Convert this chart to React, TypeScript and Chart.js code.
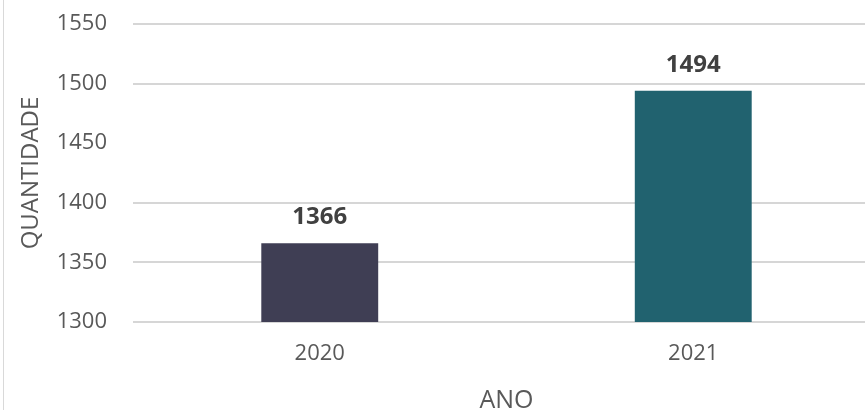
import React, { useEffect, useRef } from "react";
import { Chart, registerables } from "chart.js";

Chart.register(...registerables);

const categories: string[] = ["2020", "2021"];
const values: number[] = [1366, 1494];
const barColors: string[] = ["#3f3e54", "#21626f"];
const yMin = 1300;
const yMax = 1550;
const yStep = 50;
const hiddenGridValue = 1450;
const yTitle = "QUANTIDADE";
const xTitle = "ANO";

const FONT = "'Open Sans', sans-serif";

const valueLabels = {
  id: "valueLabels",
  afterDatasetsDraw(chart: any) {
    const ctx = chart.ctx;
    const meta = chart.getDatasetMeta(0);
    const data = chart.data.datasets[0].data as number[];
    ctx.save();
    ctx.font = `bold 24px ${FONT}`;
    ctx.fillStyle = "#404040";
    ctx.textAlign = "center";
    ctx.textBaseline = "alphabetic";
    meta.data.forEach((bar: any, i: number) => {
      ctx.fillText(String(data[i]), bar.x, bar.y - 19);
    });
    ctx.restore();
  },
};

const isHidden = (c: any) => {
  if (!c || c.type !== "tick") return false;
  const v = c.tick ? Number(c.tick.value) : NaN;
  return Math.abs(v - hiddenGridValue) < 1e-6;
};

export default function App() {
  const ref = useRef<HTMLCanvasElement | null>(null);

  useEffect(() => {
    document.body.style.overflow = "hidden";
    const canvas = ref.current!;
    const chart = new Chart(canvas, {
      type: "bar",
      data: {
        labels: categories,
        datasets: [
          {
            data: values,
            backgroundColor: barColors,
            borderWidth: 0,
            categoryPercentage: 1,
            barPercentage: 0.313,
          },
        ],
      },
      plugins: [valueLabels],
      options: {
        animation: false,
        responsive: false,
        layout: { padding: { top: 24, right: 5, bottom: 0, left: 0 } },
        plugins: {
          legend: { display: false },
          tooltip: { enabled: false },
        },
        scales: {
          x: {
            offset: true,
            border: { display: false },
            grid: { display: false, drawTicks: false },
            ticks: {
              color: "#595959",
              font: { family: FONT, size: 22 },
              padding: 19,
            },
            title: {
              display: true,
              text: xTitle,
              color: "#595959",
              font: { family: FONT, size: 25 },
              padding: { top: 0, bottom: -6 },
            },
            afterFit: (scale: any) => {
              scale.height = 88;
            },
          },
          y: {
            min: yMin,
            max: yMax,
            border: { display: false },
            grid: {
              drawTicks: false,
              lineWidth: 2,
              color: (c: any) => (isHidden(c) ? "rgba(255,255,255,0)" : "#d6d6d6"),
            },
            ticks: {
              stepSize: yStep,
              color: "#595959",
              font: { family: FONT, size: 22 },
              padding: 26,
              callback: (v: any) => String(v),
            },
            title: {
              display: true,
              text: yTitle,
              color: "#595959",
              font: { family: FONT, size: 24 },
              padding: { top: 17, bottom: 0 },
            },
            afterFit: (scale: any) => {
              scale.width = 133;
              scale.paddingTop = 12;
              scale.paddingBottom = 12;
            },
          },
        },
      },
    });
    return () => chart.destroy();
  }, []);

  return (
    <div style={{ position: "fixed", left: 0, top: 0, width: 885, height: 410, background: "#fff" }}>
      <canvas ref={ref} width={885} height={410} style={{ display: "block" }} />
      <div
        style={{
          position: "absolute",
          left: 3,
          top: 0,
          width: 0,
          height: 410,
          borderLeft: "1px solid #d9d9d9",
        }}
      />
    </div>
  );
}
